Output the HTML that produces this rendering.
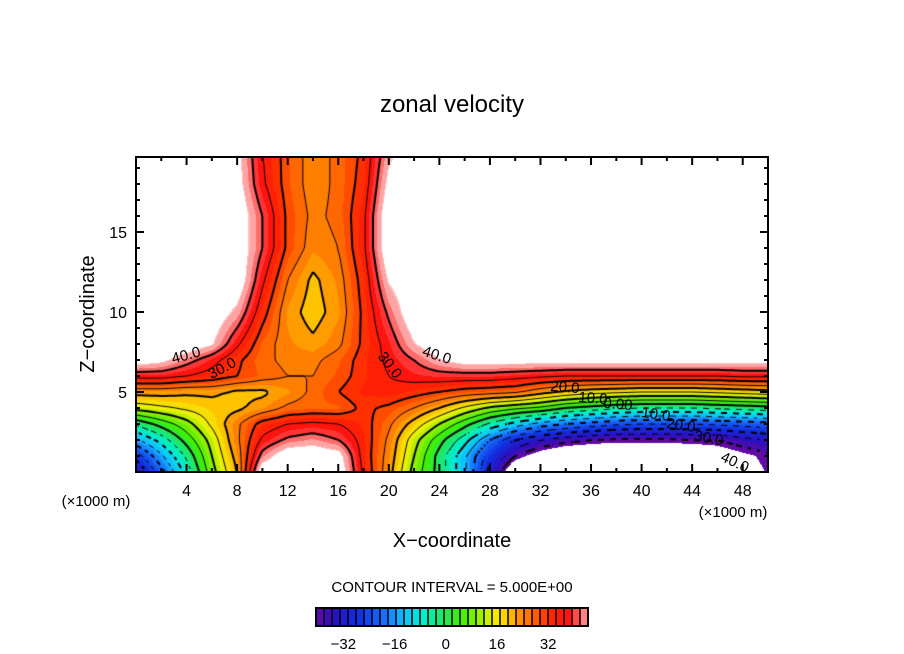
<!DOCTYPE html>
<html><head><meta charset="utf-8">
<style>
body{margin:0;background:#fff;width:904px;height:654px;overflow:hidden;position:relative;font-family:"Liberation Sans",sans-serif;}
#plot{position:absolute;left:136px;top:157px;}
svg{position:absolute;left:0;top:0;}
</style></head><body>
<canvas id="plot" width="632" height="315"></canvas>
<svg id="ov" width="904" height="654"></svg>
<script>
// ---- data (zonal velocity, x in km, z in km) ----
const xs = [0,2,4,6,8,10,12,14,16,18,20,22,24,26,28,30,32,34,36,38,40,42,44,46,48,50];
const zs = [0,1,2,3,4,5,6,7,8,10,12,14,16,18,20];
const u_z0  = [-36,-22,-8,8,20,50,50,50,50,34,22,8,-2,-14,-32,-50,-50,-50,-50,-50,-50,-50,-50,-50,-46,-42];
const u_z1  = [-28,-16,-4,10,22,42,50,50,48,33,23,10,-2,-14,-28,-40,-46,-50,-50,-50,-50,-50,-50,-47,-44,-41];
const u_z2  = [-16,-8,2,12,24,36,41,43,40,33,24,12,2,-8,-20,-30,-35,-38,-40,-41,-41,-41,-40,-40,-37,-35];
const u_z3  = [-4,2,8,16,24,32,35,36,35,32,26,18,10,2,-6,-12,-17,-20,-22,-24,-25,-25,-25,-24,-23,-22];
const u_z4  = [12,14,16,18,19,22,26,27,27,31,29,25,20,14,9,6,4,0,-2,-4,-5,-5,-5,-4,-3,-2];
const u_z5  = [22,22,21,21,19,19,22,26,30,33,34,32,30,28,27,26,22,19,17,16,15,15,15,16,17,18];
const u_z6  = [37,37,35,33,30,27,25,25,28,32,35,37,38,38,38,37,36,35,35,35,35,35,35,35,36,36];
const u_z7  = [49,47,42,37,31,26,24,24,27,32,36,40,45,48,48,48,48,48,48,48,48,48,48,48,48,48];
const u_z8  = [50,50,50,46,36,27,23,21,24,31,37,45,50,50,50,50,50,50,50,50,50,50,50,50,50,50];
const u_z10 = [50,50,50,50,44,32,22,18,22,31,41,50,50,50,50,50,50,50,50,50,50,50,50,50,50,50];
const u_z12 = [50,50,50,50,50,36,25,19,23,32,46,50,50,50,50,50,50,50,50,50,50,50,50,50,50,50];
const u_z14 = [50,50,50,50,50,40,29,23,25,34,50,50,50,50,50,50,50,50,50,50,50,50,50,50,50,50];
const u_z16 = [50,50,50,50,50,40,29,24,26,34,50,50,50,50,50,50,50,50,50,50,50,50,50,50,50,50];
const u_z18 = [50,50,50,50,48,36,28,23,26,32,47,50,50,50,50,50,50,50,50,50,50,50,50,50,50,50];
const u_z20 = [50,50,50,50,47,35,28,23,26,31,44,50,50,50,50,50,50,50,50,50,50,50,50,50,50,50];
const rows = [u_z0,u_z1,u_z2,u_z3,u_z4,u_z5,u_z6,u_z7,u_z8,u_z10,u_z12,u_z14,u_z16,u_z18,u_z20];
const xTicks = [4,8,12,16,20,24,28,32,36,40,44,48];
const zTicks = [5,10,15];
const cbTicks = [-32,-16,0,16,32];
const levels = [-40,-35,-30,-25,-20,-15,-10,-5,0,5,10,15,20,25,30,35,40];

// ---- axes ----
const X0=136, X1=768, Y0=472, Y1=157, xMin=0, xMax=50, zMin=0;
const sx = v => X0 + (v-xMin)*(X1-X0)/(xMax-xMin);
const sz = v => Y0 - (v-zMin)*16;
const zMax = (Y0-Y1)/16;

function field(x,z){
  let i=Math.min(Math.floor(x/2),xs.length-2); if(i<0)i=0;
  let tx=(x-xs[i])/(xs[i+1]-xs[i]);
  let j=0; while(j<zs.length-2 && z>zs[j+1]) j++;
  let tz=(z-zs[j])/(zs[j+1]-zs[j]); tz=Math.max(0,Math.min(1,tz)); tx=Math.max(0,Math.min(1,tx));
  const a=rows[j][i],b=rows[j][i+1],c=rows[j+1][i],d=rows[j+1][i+1];
  return (a*(1-tx)+b*tx)*(1-tz)+(c*(1-tx)+d*tx)*tz;
}
const stops=[[-42,[106,10,160]],[-36,[42,16,192]],[-28,[16,48,224]],[-20,[24,112,255]],[-14,[16,192,255]],[-8,[0,240,208]],[-2,[32,230,96]],[4,[64,240,0]],[10,[160,240,0]],[14,[240,240,0]],[18,[255,208,0]],[22,[255,144,0]],[27,[255,96,0]],[32,[255,40,0]],[37,[255,16,16]],[40,[255,80,80]],[45,[255,192,192]]];
function cmap(v){
  if(v<=stops[0][0]) return stops[0][1];
  for(let k=0;k<stops.length-1;k++){
    if(v<=stops[k+1][0]){const t=(v-stops[k][0])/(stops[k+1][0]-stops[k][0]);
      return stops[k][1].map((c,m)=>Math.round(c+(stops[k+1][1][m]-c)*t));}
  }
  return stops[stops.length-1][1];
}
const LO=-42.5, HI=45.5, STEP=2.5;
function bandColor(v){
  if(v>HI||v<LO) return [255,255,255];
  const b=Math.floor((v-LO)/STEP); return cmap(LO+(b+0.5)*STEP);
}
const cv=document.getElementById('plot'), ctx=cv.getContext('2d');
const W=632,H=315, img=ctx.createImageData(W,H);
for(let py=0;py<H;py++){for(let px=0;px<W;px++){
  const x=(px+0.5)/W*xMax, z=(H-py-0.5)/16;
  const c=bandColor(field(x,z)); const o=(py*W+px)*4;
  img.data[o]=c[0];img.data[o+1]=c[1];img.data[o+2]=c[2];img.data[o+3]=255;}}
ctx.putImageData(img,0,0);
// contours (marching squares)
const G=3, nx=Math.ceil(W/G)+1, ny=Math.ceil(H/G)+1, gv=[];
for(let j=0;j<ny;j++){gv.push([]);for(let i=0;i<nx;i++){gv[j].push(field(i*G/W*xMax,(H-j*G)/16));}}
ctx.strokeStyle='#000';
levels.forEach(L=>{
  ctx.lineWidth=(L%10===0)?2:1;
  ctx.beginPath();
  for(let j=0;j<ny-1;j++)for(let i=0;i<nx-1;i++){
    const v=[gv[j][i],gv[j][i+1],gv[j+1][i+1],gv[j+1][i]];
    const p=[[i*G,j*G],[(i+1)*G,j*G],[(i+1)*G,(j+1)*G],[i*G,(j+1)*G]];
    const pts=[];
    for(let e=0;e<4;e++){const a=v[e],b=v[(e+1)%4];
      if((a<L)!==(b<L)){const t=(L-a)/(b-a);pts.push([p[e][0]+(p[(e+1)%4][0]-p[e][0])*t,p[e][1]+(p[(e+1)%4][1]-p[e][1])*t]);}}
    if(L<0 && (Math.floor((i+j)/2)%2===1)) continue;
    for(let k=0;k+1<pts.length;k+=2){ctx.moveTo(pts[k][0],pts[k][1]);ctx.lineTo(pts[k+1][0],pts[k+1][1]);}
  }
  ctx.stroke();
});

// ---- SVG overlay ----
const NS='http://www.w3.org/2000/svg', ov=document.getElementById('ov');
function mk(tag,attrs,txt){const e=document.createElementNS(NS,tag);for(const k in attrs)e.setAttribute(k,attrs[k]);if(txt!==undefined)e.textContent=txt;ov.appendChild(e);return e;}
let e;
e=mk('rect',{x:X0,y:Y1,width:X1-X0,height:Y0-Y1,fill:'none',stroke:'#000','stroke-width':2});


for(let v=2;v<50;v+=2){const len=(v%4===0)?8:4;
  e=mk('line',{x1:sx(v),x2:sx(v),y1:Y0,y2:Y0-len,stroke:'#000','stroke-width':2});
  
  
  e=mk('line',{x1:sx(v),x2:sx(v),y1:Y1,y2:Y1+len,stroke:'#000','stroke-width':2});
  
  }
for(let v=1;v<zMax;v+=1){const len=(v%5===0)?8:4;
  e=mk('line',{x1:X0,x2:X0+len,y1:sz(v),y2:sz(v),stroke:'#000','stroke-width':2});
  
  
  e=mk('line',{x1:X1,x2:X1-len,y1:sz(v),y2:sz(v),stroke:'#000','stroke-width':2});
  
  }
xTicks.forEach(v=>{e=mk('text',{x:sx(v),y:496,'font-size':16,'text-anchor':'middle'},String(v));
  
  });
zTicks.forEach(v=>{e=mk('text',{x:127,y:sz(v)+6,'font-size':16,'text-anchor':'end'},String(v));
  
  });
e=mk('text',{x:452,y:112,'font-size':24,'text-anchor':'middle'},'zonal velocity');


e=mk('text',{x:452,y:547,'font-size':20,'text-anchor':'middle'},'X\u2212coordinate');


e=mk('text',{x:0,y:0,'font-size':20,'text-anchor':'middle',transform:'translate(94,314) rotate(-90)'},'Z\u2212coordinate');


e=mk('text',{x:96,y:506,'font-size':15,'text-anchor':'middle'},'(\u00d71000 m)');


e=mk('text',{x:733,y:517,'font-size':15,'text-anchor':'middle'},'(\u00d71000 m)');


e=mk('text',{x:452,y:592,'font-size':15,'text-anchor':'middle'},'CONTOUR INTERVAL = 5.000E+00');


// contour labels
const labs=[['40.0',186,360,-15],['30.0',222,373,-28],['30.0',390,370,52],['40.0',437,360,18],['20.0',565,392,5],['10.0',593,403,5],['0.00',618,409,5],['10.0',656,419,8],['20.0',681,430,8],['30.0',709,443,10],['40.0',735,467,25]];
labs.forEach(l=>{e=mk('text',{x:l[1],y:l[2],'font-size':15,'text-anchor':'middle',transform:`rotate(${l[3]} ${l[1]} ${l[2]-5})`},l[0]);
  
  });
// colorbar
const CB0=316,CB1=588,CBy=608,CBh=18, cbMin=-41.5, cbMax=43.5;
const cbx=v=>CB0+(v-cbMin)*(CB1-CB0)/(cbMax-cbMin);
for(let v=cbMin;v<cbMax-0.01;v+=STEP){const c=cmap(v+STEP/2);
  e=mk('rect',{x:cbx(v),y:CBy,width:cbx(v+STEP)-cbx(v),height:CBh,fill:`rgb(${c[0]},${c[1]},${c[2]})`});
  
  
  e=mk('line',{x1:cbx(v),x2:cbx(v),y1:CBy,y2:CBy+CBh,stroke:'#000','stroke-width':1.5});
  
  }
e=mk('rect',{x:CB0,y:CBy,width:CB1-CB0,height:CBh,fill:'none',stroke:'#000','stroke-width':2});


cbTicks.forEach(v=>{e=mk('text',{x:cbx(v)-3,y:649,'font-size':15,'text-anchor':'middle'},v<0?'\u2212'+(-v):String(v));
  
  });
</script>
</body></html>
